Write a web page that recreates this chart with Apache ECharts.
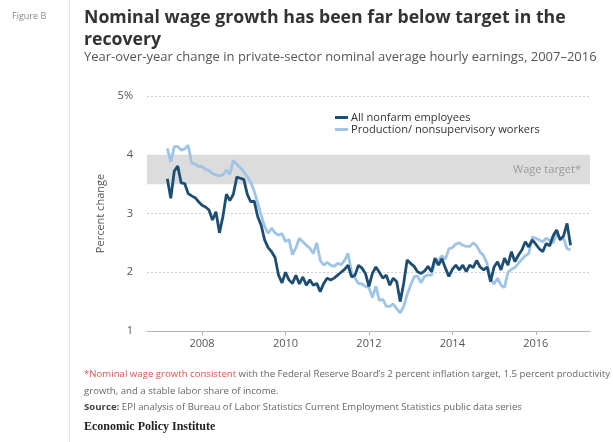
<!DOCTYPE html>
<html>
<head>
<meta charset="utf-8">
<script src="https://cdn.jsdelivr.net/npm/echarts@6/dist/echarts.min.js"></script>
<style>
  html, body { margin: 0; padding: 0; background: #fff; }
  #chart { width: 613px; height: 442px; }
</style>
</head>
<body>
<div id="chart"></div>
<script>
// Monthly series, March 2007 through November 2016 (year-over-year % change)
const startYear = 2007;
const startMonth = 3;

const allNonfarm = [
  3.59, 3.26, 3.72, 3.81, 3.52, 3.51, 3.34, 3.30, 3.27, 3.20,
  3.14, 3.11, 3.06, 2.89, 3.03, 2.67, 2.95, 3.33, 3.22, 3.33,
  3.62, 3.60, 3.58, 3.33, 3.20, 3.21, 2.95, 2.80, 2.55, 2.42,
  2.35, 2.25, 1.95, 1.82, 2.00, 1.87, 1.81, 1.95, 1.80, 1.92,
  1.78, 1.87, 1.78, 1.81, 1.67, 1.81, 1.90, 1.87, 1.90, 1.95,
  2.00, 2.05, 2.12, 1.92, 1.95, 2.12, 2.07, 1.98, 1.76, 1.98,
  2.09, 2.00, 1.90, 1.95, 1.78, 1.90, 1.84, 1.50, 1.81, 2.21,
  2.15, 2.10, 2.01, 1.98, 2.02, 2.10, 2.01, 2.24, 2.12, 2.23,
  2.07, 1.93, 2.05, 2.12, 2.04, 2.12, 2.01, 2.12, 2.08, 2.20,
  2.09, 2.04, 2.09, 1.84, 2.09, 2.18, 2.04, 2.24, 2.12, 2.35,
  2.18, 2.29, 2.38, 2.52, 2.43, 2.55, 2.48, 2.40, 2.35, 2.49,
  2.45, 2.62, 2.72, 2.55, 2.62, 2.83, 2.46
];

const productionWorkers = [
  4.11, 3.88, 4.14, 4.14, 4.08, 4.10, 4.16, 3.86, 3.84, 3.80,
  3.80, 3.75, 3.73, 3.68, 3.66, 3.64, 3.66, 3.74, 3.67, 3.90,
  3.84, 3.78, 3.71, 3.63, 3.53, 3.38, 3.18, 2.97, 2.78, 2.66,
  2.75, 2.67, 2.63, 2.66, 2.52, 2.56, 2.30, 2.42, 2.58, 2.52,
  2.46, 2.41, 2.32, 2.50, 2.20, 2.12, 2.17, 2.12, 2.10, 2.15,
  2.13, 2.20, 2.32, 2.00, 1.90, 1.81, 1.80, 1.76, 1.74, 1.57,
  1.76, 1.52, 1.54, 1.42, 1.42, 1.46, 1.38, 1.31, 1.42, 1.62,
  1.78, 1.92, 1.94, 1.82, 1.93, 1.95, 1.95, 2.18, 2.21, 2.28,
  2.22, 2.40, 2.42, 2.48, 2.50, 2.46, 2.44, 2.44, 2.50, 2.45,
  2.34, 2.28, 2.15, 1.88, 1.80, 1.90, 1.78, 1.74, 2.00, 2.05,
  2.08, 2.15, 2.22, 2.28, 2.32, 2.60, 2.58, 2.55, 2.52, 2.58,
  2.54, 2.50, 2.65, 2.58, 2.58, 2.40, 2.38
];

const yearTicks = [2008, 2010, 2012, 2014, 2016];
const wageTarget = [3.5, 4.0];

const seriesNames = ['All nonfarm employees', 'Production/ nonsupervisory workers'];

// pair each monthly value with its decimal-year position
function toPoints(values) {
  return values.map((v, i) => [startYear + (startMonth - 1 + i) / 12, v]);
}

const font = '"Open Sans", Lato, sans-serif';
const chart = echarts.init(document.getElementById('chart'));

chart.setOption({
  animation: false,
  textStyle: { fontFamily: font },
  grid: { left: 147, right: 23, top: 96, bottom: 111 },
  legend: {
    data: seriesNames,
    orient: 'vertical',
    left: 330,
    top: 107,
    itemWidth: 13,
    itemHeight: 3,
    itemGap: 1,
    icon: 'rect',
    textStyle: { fontSize: 11.1, color: '#333', fontFamily: font, padding: [0, 0, 0, -2] }
  },
  xAxis: {
    type: 'value',
    min: 2006.68,
    max: 2017.3,
    axisLine: { show: true, lineStyle: { color: '#b5b5b5', width: 1 } },
    axisTick: { show: true, customValues: yearTicks, length: 4, lineStyle: { color: '#b5b5b5' } },
    axisLabel: { customValues: yearTicks, fontSize: 11, color: '#555', margin: 7, formatter: v => String(v) },
    splitLine: { show: false }
  },
  yAxis: {
    type: 'value',
    min: 1,
    max: 5,
    interval: 1,
    name: 'Percent change',
    nameLocation: 'middle',
    nameRotate: 90,
    nameGap: 40,
    nameTextStyle: { fontSize: 11, color: '#555' },
    axisLine: { show: false },
    axisTick: { show: false },
    axisLabel: {
      fontSize: 11,
      color: '#555',
      margin: 14,
      formatter: v => (v === 5 ? '5%' : String(v))
    },
    splitLine: { lineStyle: { color: '#cfcfcf', type: [2, 2], width: 1 } }
  },
  series: [
    {
      name: seriesNames[1],
      type: 'line',
      data: toPoints(productionWorkers),
      showSymbol: false,
      lineStyle: { color: '#9fc4e6', width: 2.8 },
      itemStyle: { color: '#9fc4e6' },
      z: 2,
      markArea: {
        silent: true,
        itemStyle: { color: '#dcdcdc' },
        label: {
          show: true,
          position: 'insideRight',
          color: '#9a9a9a',
          fontSize: 11,
          fontFamily: font,
          offset: [-4, 0]
        },
        data: [[
          { yAxis: wageTarget[0], name: 'Wage target*' },
          { yAxis: wageTarget[1] }
        ]]
      }
    },
    {
      name: seriesNames[0],
      type: 'line',
      data: toPoints(allNonfarm),
      showSymbol: false,
      lineStyle: { color: '#1e4d72', width: 2.8 },
      itemStyle: { color: '#1e4d72' },
      z: 3
    }
  ],
  graphic: [
    { type: 'rect', left: 69, top: 0, shape: { width: 1, height: 442 }, style: { fill: '#e6e6e6' } },
    { type: 'text', left: 12, top: 12, style: { text: 'Figure B', fontSize: 9, fill: '#888', fontFamily: font } },
    {
      type: 'text', left: 84, top: 7,
      style: {
        text: 'Nominal wage growth has been far below target in the\nrecovery',
        fontSize: 17.7, fontWeight: 'bold', fill: '#333', fontFamily: font, lineHeight: 22
      }
    },
    {
      type: 'text', left: 84, top: 51,
      style: {
        text: 'Year-over-year change in private-sector nominal average hourly earnings, 2007\u20132016',
        fontSize: 13, fill: '#555', fontFamily: font
      }
    },
    {
      type: 'text', left: 84, top: 366,
      style: {
        text: '{red|*Nominal wage growth consistent} with the Federal Reserve Board\u2019s 2 percent inflation target, 1.5 percent productivity\ngrowth, and a stable labor share of income.',
        fontSize: 9.65, fill: '#666', fontFamily: font, lineHeight: 17,
        rich: { red: { fill: '#d9534f', fontSize: 9.65, fontFamily: font } }
      }
    },
    {
      type: 'text', left: 84, top: 402,
      style: {
        text: '{b|Source:} EPI analysis of Bureau of Labor Statistics Current Employment Statistics public data series',
        fontSize: 9.65, fill: '#666', fontFamily: font,
        rich: { b: { fontWeight: 'bold', fill: '#444', fontSize: 9.65, fontFamily: font } }
      }
    },
    {
      type: 'text', left: 84, top: 421,
      style: {
        text: 'Economic Policy Institute',
        fontSize: 12, fontWeight: 'bold', fill: '#222', fontFamily: '"Liberation Serif", serif'
      }
    }
  ]
});
</script>
</body>
</html>
